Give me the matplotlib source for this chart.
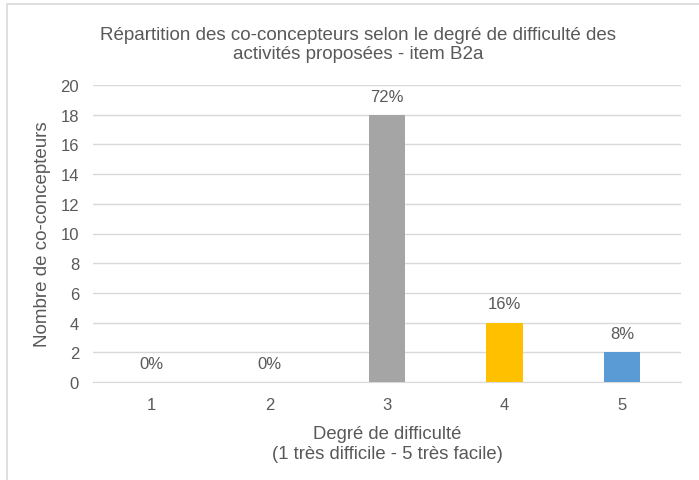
"""
Bar chart: distribution of co-designers by difficulty rating (item B2a).
"""

import matplotlib
matplotlib.use("Agg")
import matplotlib.pyplot as plt
from matplotlib.patches import Rectangle


degrees = ["1", "2", "3", "4", "5"]
counts = [0, 0, 18, 4, 2]
percentLabels = ["0%", "0%", "72%", "16%", "8%"]
barColors = ["#A5A5A5", "#A5A5A5", "#A5A5A5", "#FFC000", "#5B9BD5"]
yticks = list(range(0, 21, 2))

textColor = "#595959"
plt.rcParams["font.family"] = ["Liberation Sans", "DejaVu Sans"]

fig = plt.figure(figsize=(6.99, 4.81), dpi=100)
W, H = 699, 481

# Light gray outer frame of the chart area
fig.patches.append(Rectangle((7 / W, -0.1), 1.2, 1 - 5 / H + 0.1,
                             transform=fig.transFigure, fill=False,
                             edgecolor="#D9D9D9", linewidth=1.2))

ax = fig.add_axes([93 / W, 1 - 383 / H, (681 - 93) / W, (383 - 86) / H])

positions = list(range(1, len(degrees) + 1))
bars = ax.bar(positions, counts, width=0.31, color=barColors, zorder=3)

for bar, label in zip(bars, percentLabels):
    ax.annotate(label,
                (bar.get_x() + bar.get_width() / 2, bar.get_height()),
                xytext=(0, 8), textcoords="offset points",
                ha="center", va="bottom", fontsize=12, color=textColor)

ax.set_xlim(0.5, 5.5)
ax.set_ylim(0, 20)
ax.set_yticks(yticks)
ax.set_xticks(positions)
ax.set_xticklabels(degrees)
ax.grid(axis="y", color="#D9D9D9", linewidth=1, zorder=0)
for side in ["top", "right", "left"]:
    ax.spines[side].set_visible(False)
ax.spines["bottom"].set_color("#D9D9D9")
ax.tick_params(axis="both", length=0, labelsize=12, colors=textColor)
ax.tick_params(axis="y", pad=10)
ax.tick_params(axis="x", pad=11)

ax.set_ylabel("Nombre de co-concepteurs", fontsize=13.5, color=textColor,
              labelpad=7)
ax.set_xlabel("Degré de difficulté\n(1 très difficile - 5 très facile)",
              fontsize=13.3, color=textColor, labelpad=9, linespacing=1.25)

fig.text(358 / W, 1 - 45 / H,
         "Répartition des co-concepteurs selon le degré de difficulté des\n"
         "activités proposées - item B2a",
         ha="center", va="center", fontsize=13.5, color=textColor,
         linespacing=1.15)

fig.savefig("out.png", dpi=100)
